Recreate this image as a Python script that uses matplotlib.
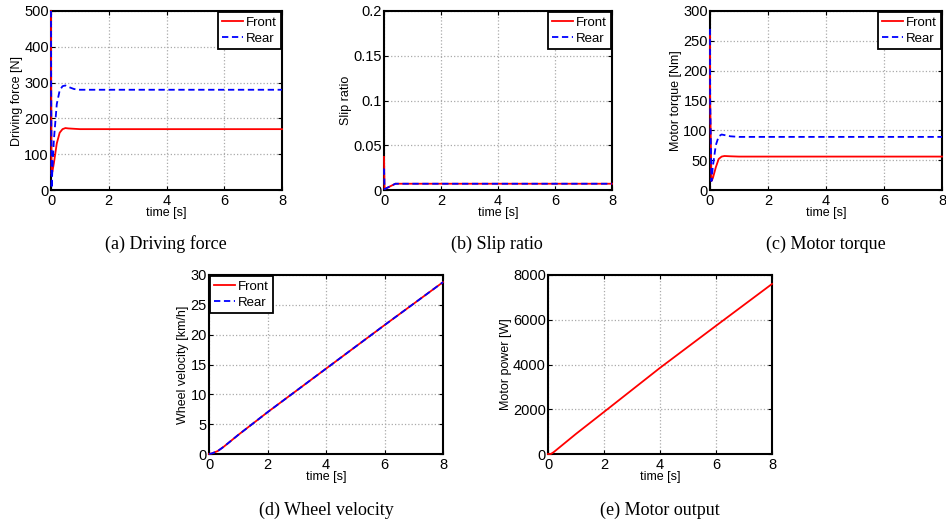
import matplotlib.pyplot as plt
import numpy as np

plt.rcParams['font.family'] = ['Liberation Sans', 'DejaVu Sans']

# driving force [N]
t_force = [0, 0.005, 0.02, 0.05, 0.1, 0.2, 0.3, 0.4, 0.5, 0.6, 0.8, 1.0, 1.5, 8]
force_front = [500, 300, 45, 52, 75, 130, 160, 170, 173, 172, 171, 170, 170, 170]
force_rear = [500, 300, 5, 60, 140, 240, 278, 290, 292, 288, 282, 280, 280, 280]

# slip ratio
t_slip = [0, 0.02, 0.4, 8]
slip_front = [0.037, 0.001, 0.007, 0.007]
slip_rear = [0.024, 0.001, 0.007, 0.007]

# motor torque [Nm]
t_torque = [0, 0.005, 0.05, 0.1, 0.2, 0.3, 0.4, 0.5, 0.7, 1.0, 8]
torque_front = [260, 150, 15, 20, 38, 52, 56, 57, 56.5, 56, 56]
torque_rear = [270, 150, 15, 40, 75, 90, 93, 92, 90, 89, 89]

# wheel velocity [km/h]
t_vel = [0, 0.1, 0.3, 0.5, 1, 2, 4, 6, 8]
vel_front = [0, 0.1, 0.5, 1.2, 3.2, 7.0, 14.3, 21.6, 28.8]
vel_rear = [0, 0.1, 0.5, 1.2, 3.2, 7.0, 14.3, 21.6, 28.8]

# motor power [W]
t_pow = [0, 0.1, 0.2, 1, 2, 4, 6, 8]
power = [0, 0, 80, 900, 1880, 3850, 5730, 7600]

W, H = 946, 526
fig = plt.figure(figsize=(W / 100, H / 100), dpi=100)


def make_ax(l, t, r, b):
    ax = fig.add_axes([l / W, 1 - b / H, (r - l) / W, (b - t) / H])
    for s in ax.spines.values():
        s.set_linewidth(1.5)
    ax.grid(True, ls=':', color='#aaaaaa', lw=0.9)
    ax.tick_params(direction='in', length=3, labelsize=10.5, pad=1.5,
                   top=True, right=True, width=0.8)
    ax.tick_params(axis='x', pad=3)
    ax.set_xlim(0, 8)
    ax.set_xticks([0, 2, 4, 6, 8])
    ax.set_xlabel('time [s]', fontsize=9, labelpad=-1)
    return ax


def legend(ax, loc):
    lg = ax.legend(loc=loc, fontsize=9.5, fancybox=False, framealpha=1,
                   edgecolor='black', borderpad=0.3, handlelength=1.6,
                   handletextpad=0.2, labelspacing=0.3, borderaxespad=0.1)
    lg.get_frame().set_linewidth(1.3)


def caption(x, y, text):
    fig.text(x / W, 1 - y / H, text, ha='center', va='center', fontsize=13,
             family=['Liberation Serif', 'DejaVu Serif'])


def line(ax, t, y, dashed=False, **kw):
    ln, = ax.plot(t, y, lw=1.3, zorder=3, clip_on=False, **kw)
    if dashed:
        ln.set_dashes((3.5, 2))


ax = make_ax(51, 11, 282, 190)
line(ax, t_force, force_front, color='red', label='Front')
line(ax, t_force, force_rear, dashed=True, color='blue', label='Rear')
ax.set_ylim(0, 500)
ax.set_ylabel('Driving force [N]', fontsize=9, labelpad=1)
legend(ax, 'upper right')
caption(166, 244, '(a) Driving force')

ax = make_ax(384, 11, 612, 190)
line(ax, t_slip, slip_front, color='red', label='Front')
line(ax, t_slip, slip_rear, dashed=True, color='blue', label='Rear')
ax.set_ylim(0, 0.2)
ax.set_yticks([0, 0.05, 0.1, 0.15, 0.2])
ax.set_yticklabels(['0', '0.05', '0.1', '0.15', '0.2'])
ax.set_ylabel('Slip ratio', fontsize=9, labelpad=1)
legend(ax, 'upper right')
caption(497, 244, '(b) Slip ratio')

ax = make_ax(710, 11, 942, 190)
line(ax, t_torque, torque_front, color='red', label='Front')
line(ax, t_torque, torque_rear, dashed=True, color='blue', label='Rear')
ax.set_ylim(0, 300)
ax.set_ylabel('Motor torque [Nm]', fontsize=9, labelpad=1)
legend(ax, 'upper right')
caption(826, 244, '(c) Motor torque')

ax = make_ax(209, 275, 443, 454)
line(ax, t_vel, vel_front, color='red', label='Front')
line(ax, t_vel, vel_rear, dashed=True, color='blue', label='Rear')
ax.set_ylim(0, 30)
ax.set_ylabel('Wheel velocity [km/h]', fontsize=9, labelpad=1)
legend(ax, 'upper left')
caption(326, 510, '(d) Wheel velocity')

ax = make_ax(548, 275, 772, 454)
line(ax, t_pow, power, color='red')
ax.set_ylim(0, 8000)
ax.set_yticks([0, 2000, 4000, 6000, 8000])
ax.set_ylabel('Motor power [W]', fontsize=9, labelpad=1)
caption(660, 510, '(e) Motor output')

fig.savefig('out.png', dpi=100)
